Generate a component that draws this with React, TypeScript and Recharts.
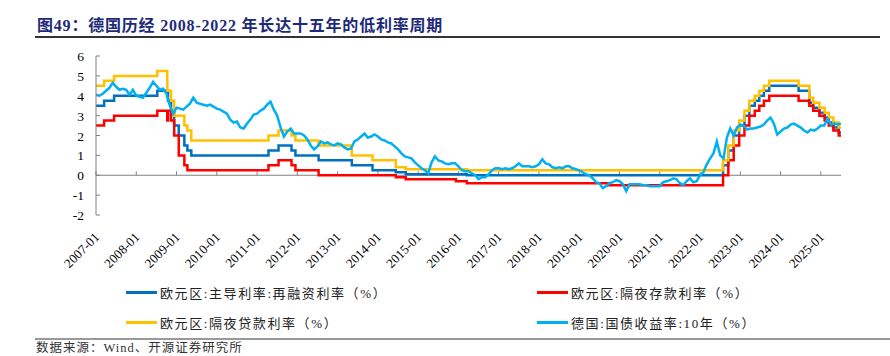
import { Line, LineChart, ReferenceLine, XAxis, YAxis } from "recharts";

const yearTicks = [
  2007, 2008, 2009, 2010, 2011, 2012, 2013, 2014, 2015, 2016, 2017, 2018,
  2019, 2020, 2021, 2022, 2023, 2024, 2025,
];
const yTicks = [-2, -1, 0, 1, 2, 3, 4, 5, 6];
const endDate = "2025-07-01";

// ECB main refinancing rate (change dates / values)
const mroDates = [
  "2007-01-01", "2007-03-14", "2007-06-13", "2008-07-09", "2008-10-15",
  "2008-11-12", "2008-12-10", "2009-01-21", "2009-03-11", "2009-04-08",
  "2009-05-13", "2011-04-13", "2011-07-13", "2011-11-09", "2011-12-14",
  "2012-07-11", "2013-05-08", "2013-11-13", "2014-06-11", "2014-09-10",
  "2016-03-16", "2022-07-27", "2022-09-14", "2022-11-02", "2022-12-21",
  "2023-02-08", "2023-03-22", "2023-05-10", "2023-06-21", "2023-08-02",
  "2023-09-20", "2024-06-12", "2024-09-18", "2024-10-23", "2024-12-18",
  "2025-02-05", "2025-03-12", "2025-04-23", "2025-06-11",
];
const mroValues = [
  3.5, 3.75, 4.0, 4.25, 3.75, 3.25, 2.5, 2.0, 1.5, 1.25, 1.0, 1.25, 1.5,
  1.25, 1.0, 0.75, 0.5, 0.25, 0.15, 0.05, 0.0, 0.5, 1.25, 2.0, 2.5, 3.0,
  3.5, 3.75, 4.0, 4.25, 4.5, 4.25, 3.65, 3.4, 3.15, 2.9, 2.65, 2.4, 2.15,
];

// ECB deposit facility rate
const depoDates = [
  "2007-01-01", "2007-03-14", "2007-06-13", "2008-07-09", "2008-10-08",
  "2008-10-15", "2008-11-12", "2008-12-10", "2009-01-21", "2009-03-11",
  "2009-04-08", "2011-04-13", "2011-07-13", "2011-11-09", "2011-12-14",
  "2012-07-11", "2014-06-11", "2014-09-10", "2015-12-09", "2016-03-16",
  "2019-09-18", "2022-07-27", "2022-09-14", "2022-11-02", "2022-12-21",
  "2023-02-08", "2023-03-22", "2023-05-10", "2023-06-21", "2023-08-02",
  "2023-09-20", "2024-06-12", "2024-09-18", "2024-10-23", "2024-12-18",
  "2025-02-05", "2025-03-12", "2025-04-23", "2025-06-11",
];
const depoValues = [
  2.5, 2.75, 3.0, 3.25, 2.75, 3.25, 2.75, 2.0, 1.0, 0.5, 0.25, 0.5, 0.75,
  0.5, 0.25, 0.0, -0.1, -0.2, -0.3, -0.4, -0.5, 0.0, 0.75, 1.5, 2.0, 2.5,
  3.0, 3.25, 3.5, 3.75, 4.0, 3.75, 3.5, 3.25, 3.0, 2.75, 2.5, 2.25, 2.0,
];

// ECB marginal lending facility rate
const mlfDates = [
  "2007-01-01", "2007-03-14", "2007-06-13", "2008-07-09", "2008-10-08",
  "2008-10-09", "2008-11-12", "2008-12-10", "2009-03-11", "2009-04-08",
  "2009-05-13", "2011-04-13", "2011-07-13", "2011-11-09", "2011-12-14",
  "2012-07-11", "2013-05-08", "2013-11-13", "2014-06-11", "2014-09-10",
  "2016-03-16", "2022-07-27", "2022-09-14", "2022-11-02", "2022-12-21",
  "2023-02-08", "2023-03-22", "2023-05-10", "2023-06-21", "2023-08-02",
  "2023-09-20", "2024-06-12", "2024-09-18", "2024-10-23", "2024-12-18",
  "2025-02-05", "2025-03-12", "2025-04-23", "2025-06-11",
];
const mlfValues = [
  4.5, 4.75, 5.0, 5.25, 4.75, 4.25, 3.75, 3.0, 2.5, 2.25, 1.75, 2.0, 2.25,
  2.0, 1.75, 1.5, 1.0, 0.75, 0.4, 0.3, 0.25, 0.75, 1.5, 2.25, 2.75, 3.25,
  3.75, 4.0, 4.25, 4.5, 4.75, 4.5, 3.9, 3.65, 3.4, 3.15, 2.9, 2.65, 2.4,
];

// Germany 10Y bund yield, monthly from 2007-01
const bundStartYear = 2007;
const bundValues = [
  4.05, 4.0, 4.1, 4.25, 4.4, 4.65, 4.45, 4.3, 4.35, 4.3, 4.05, 4.3,
  4.0, 3.95, 3.9, 4.15, 4.4, 4.7, 4.5, 4.3, 4.35, 4.1, 3.5, 3.1,
  3.4, 3.35, 3.3, 3.45, 3.6, 3.9, 3.65, 3.6, 3.55, 3.5, 3.55, 3.45,
  3.35, 3.3, 3.2, 3.1, 2.8, 2.65, 2.7, 2.4, 2.35, 2.6, 2.8, 3.05,
  3.1, 3.25, 3.35, 3.55, 3.7, 3.3, 3.0, 2.4, 1.95, 2.2, 2.35, 2.1,
  2.1, 2.1, 2.0, 1.8, 1.5, 1.3, 1.45, 1.7, 1.6, 1.65, 1.55, 1.5,
  1.6, 1.55, 1.4, 1.3, 1.35, 1.7, 1.8, 1.95, 2.1, 1.9, 1.95, 2.05,
  1.95, 1.8, 1.75, 1.65, 1.6, 1.45, 1.3, 1.1, 0.95, 0.9, 0.85, 0.65,
  0.5, 0.35, 0.25, 0.1, 0.65, 0.95, 0.75, 0.7, 0.6, 0.55, 0.6, 0.6,
  0.45, 0.25, 0.2, 0.2, 0.1, 0.0, -0.2, -0.1, -0.1, 0.05, 0.25, 0.35,
  0.35, 0.3, 0.35, 0.3, 0.35, 0.45, 0.6, 0.45, 0.45, 0.45, 0.4, 0.45,
  0.55, 0.8, 0.6, 0.55, 0.4, 0.35, 0.4, 0.35, 0.45, 0.45, 0.35, 0.3,
  0.25, 0.15, 0.05, 0.0, -0.15, -0.35, -0.4, -0.65, -0.55, -0.4, -0.35, -0.25,
  -0.3, -0.45, -0.8, -0.45, -0.45, -0.45, -0.45, -0.5, -0.5, -0.55, -0.55, -0.55,
  -0.55, -0.35, -0.3, -0.25, -0.15, -0.2, -0.4, -0.5, -0.3, -0.15, -0.35, -0.3,
  0.0, 0.15, 0.55, 0.85, 1.1, 1.7, 1.0, 0.85, 1.9, 2.35, 2.0, 2.4,
  2.55, 2.5, 2.3, 2.35, 2.35, 2.4, 2.45, 2.55, 2.75, 2.9, 2.6, 2.05,
  2.2, 2.35, 2.4, 2.55, 2.6, 2.5, 2.4, 2.25, 2.15, 2.3, 2.25, 2.35,
  2.5, 2.5, 2.85, 2.55, 2.6, 2.55, 2.6,
];

const seriesNames = {
  mro: "欧元区:主导利率:再融资利率（%）",
  depo: "欧元区:隔夜存款利率（%）",
  mlf: "欧元区:隔夜贷款利率（%）",
  bund: "德国:国债收益率:10年（%）",
};

const colors = {
  mro: "#0070C0",
  depo: "#FF0000",
  mlf: "#FFC000",
  bund: "#00B0F0",
};

function toYear(d: string) {
  const [y, m, day] = d.split("-").map(Number);
  return y + (m - 1) / 12 + ((day ?? 1) - 1) / 365;
}

function stepSeries(dates: string[], values: number[]) {
  const pts = dates.map((d, i) => ({ t: toYear(d), v: values[i] }));
  pts.push({ t: toYear(endDate), v: values[values.length - 1] });
  return pts;
}

const mroData = stepSeries(mroDates, mroValues);
const depoData = stepSeries(depoDates, depoValues);
const mlfData = stepSeries(mlfDates, mlfValues);
const bundData = bundValues.map((v, i) => ({ t: bundStartYear + i / 12, v }));

const serif = '"Liberation Serif", "Noto Sans CJK SC", serif';

function XTick(props: any) {
  const { x, y, payload } = props;
  const ax = x + 4;
  const ay = y + 23;
  return (
    <text
      x={ax}
      y={ay}
      transform={`rotate(-45 ${ax} ${ay})`}
      textAnchor="end"
      fontSize={13}
      fontFamily={serif}
      fill="#000"
    >
      {payload.value}-01
    </text>
  );
}

function YTick(props: any) {
  const { x, y, payload } = props;
  return (
    <g>
      <text
        x={x - 12}
        y={y + 5}
        textAnchor="end"
        fontSize={13.5}
        fontFamily={serif}
        fill="#000"
      >
        {payload.value}
      </text>
      <line x1={x} y1={y} x2={x + 4} y2={y} stroke="#808080" strokeWidth={1} />
    </g>
  );
}

const legendItems = [
  { key: "mro", left: 126, top: 292 },
  { key: "depo", left: 537, top: 292 },
  { key: "mlf", left: 126, top: 322 },
  { key: "bund", left: 537, top: 322 },
] as const;

export default function App() {
  return (
    <div
      style={{
        position: "absolute",
        left: 0,
        top: 0,
        width: 890,
        height: 356,
        background: "#fff",
        overflow: "hidden",
        fontFamily: serif,
      }}
    >
      <div
        style={{
          position: "absolute",
          left: 37,
          top: 12,
          fontSize: 16,
          fontWeight: "bold",
          color: "#1e2a78",
          whiteSpace: "nowrap",
          letterSpacing: 0.8,
        }}
      >
        图49：德国历经 2008-2022 年长达十五年的低利率周期
      </div>
      <div
        style={{
          position: "absolute",
          left: 35,
          top: 36,
          width: 845,
          height: 2,
          background: "#333",
        }}
      />

      <div style={{ position: "absolute", left: 0, top: 0 }}>
        <LineChart
          width={890}
          height={285}
          margin={{ top: 56, right: 49, bottom: 0, left: 0 }}
        >
          <XAxis
            dataKey="t"
            type="number"
            domain={[2007, 2025.5]}
            ticks={yearTicks}
            allowDataOverflow
            axisLine={false}
            tickLine={false}
            tickSize={0}
            tickMargin={0}
            height={70}
            interval={0}
            tick={<XTick />}
          />
          <YAxis
            type="number"
            domain={[-2, 6]}
            ticks={yTicks}
            width={96}
            axisLine={{ stroke: "#808080" }}
            tickLine={false}
            tickSize={0}
            tickMargin={0}
            interval={0}
            tick={<YTick />}
          />
          <ReferenceLine y={0} stroke="#808080" strokeWidth={1} />
          {yearTicks.map((yr) => (
            <ReferenceLine
              key={yr}
              segment={[
                { x: yr, y: 0 },
                { x: yr, y: 0.2 },
              ]}
              stroke="#808080"
              strokeWidth={1}
            />
          ))}
          <Line
            data={mroData}
            dataKey="v"
            type="stepAfter"
            stroke={colors.mro}
            strokeWidth={2.5}
            dot={false}
            isAnimationActive={false}
          />
          <Line
            data={depoData}
            dataKey="v"
            type="stepAfter"
            stroke={colors.depo}
            strokeWidth={2.5}
            dot={false}
            isAnimationActive={false}
          />
          <Line
            data={mlfData}
            dataKey="v"
            type="stepAfter"
            stroke={colors.mlf}
            strokeWidth={2.5}
            dot={false}
            isAnimationActive={false}
          />
          <Line
            data={bundData}
            dataKey="v"
            type="linear"
            stroke={colors.bund}
            strokeWidth={2.5}
            dot={false}
            isAnimationActive={false}
          />
        </LineChart>
      </div>

      {legendItems.map((item) => (
        <div
          key={item.key}
          style={{
            position: "absolute",
            left: item.left,
            top: item.top - 9,
            height: 18,
            display: "flex",
            alignItems: "center",
            whiteSpace: "nowrap",
          }}
        >
          <div
            style={{
              width: 31,
              height: 3,
              background: colors[item.key],
              marginRight: 3,
            }}
          />
          <span style={{ fontSize: 13, color: "#222", letterSpacing: 1.6 }}>
            {seriesNames[item.key]}
          </span>
        </div>
      ))}

      <div
        style={{
          position: "absolute",
          left: 35,
          top: 338,
          width: 855,
          height: 2,
          background: "#999",
        }}
      />
      <div
        style={{
          position: "absolute",
          left: 36,
          top: 341,
          fontSize: 12.5,
          lineHeight: "14px",
          color: "#333",
          whiteSpace: "nowrap",
          letterSpacing: 1,
        }}
      >
        数据来源：Wind、开源证券研究所
      </div>
    </div>
  );
}
